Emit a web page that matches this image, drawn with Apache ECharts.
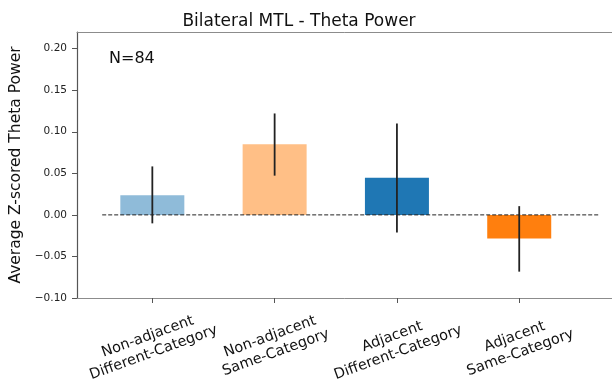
<!DOCTYPE html>
<html>
<head>
<meta charset="utf-8">
<script src="https://cdn.jsdelivr.net/npm/echarts@6/dist/echarts.min.js"></script>
<style>html,body{margin:0;padding:0;background:#fff;overflow:hidden}#c{width:612px;height:380px}</style>
</head>
<body>
<div id="c"></div>
<script>
var categories = ['Non-adjacent\nDifferent-Category', 'Non-adjacent\nSame-Category', 'Adjacent\nDifferent-Category', 'Adjacent\nSame-Category'];
var means = [0.0237, 0.0851, 0.0448, -0.0284];
var errLow = [-0.0102, 0.0472, -0.0213, -0.0683];
var errHigh = [0.0583, 0.1220, 0.1100, 0.0105];
var barColors = ['#8fbbd9', '#ffbf86', '#1f77b4', '#ff7f0e'];
var yTicks = [-0.10, -0.05, 0.00, 0.05, 0.10, 0.15, 0.20];
var refLine = [[-0.41, 0], [3.66, 0]];

var font = 'DejaVu Sans';
var chart = echarts.init(document.getElementById('c'), null, {renderer: 'canvas'});
var barData = means.map(function (v, i) {
  return {value: [i, v], itemStyle: {color: barColors[i]}};
});
var errData = means.map(function (v, i) { return [i, errLow[i], errHigh[i]]; });
var spine = '#8c8c8c';

chart.setOption({
  animation: false,
  title: [
    {text: 'Bilateral MTL - Theta Power', left: 294, top: 8, textAlign: 'center',
     textStyle: {fontFamily: font, fontSize: 17, fontWeight: 'normal', color: '#111'}},
    {text: 'N=84', left: 104, top: 46,
     textStyle: {fontFamily: font, fontSize: 16, fontWeight: 'normal', color: '#111'}}
  ],
  grid: {left: 77, top: 32, right: -8, bottom: 82, show: false,
         outerBoundsMode: 'none', containLabel: false},
  xAxis: [{
    type: 'value', min: -0.616, max: 3.824,
    splitLine: {show: false},
    axisLine: {show: true, onZero: false, lineStyle: {color: spine, width: 1}},
    axisTick: {show: true, length: 5, lineStyle: {color: '#555'}, customValues: [0, 1, 2, 3]},
    axisLabel: {
      customValues: [0, 1, 2, 3],
      formatter: function (v) { return categories[Math.round(v)]; },
      rotate: 20, align: 'center', verticalAlign: 'top', margin: 28, padding: [0, 16, 0, 0],
      fontFamily: font, fontSize: 14.5, color: '#111', lineHeight: 17
    }
  }, {
    type: 'value', position: 'top', min: -0.616, max: 3.824,
    splitLine: {show: false}, axisTick: {show: false}, axisLabel: {show: false},
    axisLine: {show: true, onZero: false, lineStyle: {color: spine, width: 1}}
  }],
  yAxis: {
    type: 'value', position: 'left', min: -0.10, max: 0.22,
    name: 'Average Z-scored Theta Power', nameLocation: 'middle', nameGap: 32,
    nameTextStyle: {fontFamily: font, fontSize: 15.5, color: '#111'},
    splitLine: {show: false},
    axisLine: {show: true, onZero: false, lineStyle: {color: '#555', width: 1.2}},
    axisTick: {show: true, length: 5, lineStyle: {color: '#555'}, customValues: yTicks},
    axisLabel: {
      customValues: yTicks,
      formatter: function (v) { return (v < 0 ? '\u2212' : '') + Math.abs(v).toFixed(2); },
      fontFamily: font, fontSize: 10.5, color: '#222', margin: 10
    }
  },
  series: [
    {type: 'bar', data: barData, barWidth: 64, z: 2},
    {type: 'line', data: refLine, symbol: 'none', z: 3,
     lineStyle: {color: '#222', width: 1, type: [4, 2]}},
    {type: 'custom', data: errData, z: 4,
     renderItem: function (params, api) {
       var x = api.value(0);
       var p1 = api.coord([x, api.value(1)]);
       var p2 = api.coord([x, api.value(2)]);
       return {type: 'line', shape: {x1: p1[0], y1: p1[1], x2: p2[0], y2: p2[1]},
               style: {stroke: '#222', lineWidth: 1.8}};
     }}
  ]
});
</script>
</body>
</html>
